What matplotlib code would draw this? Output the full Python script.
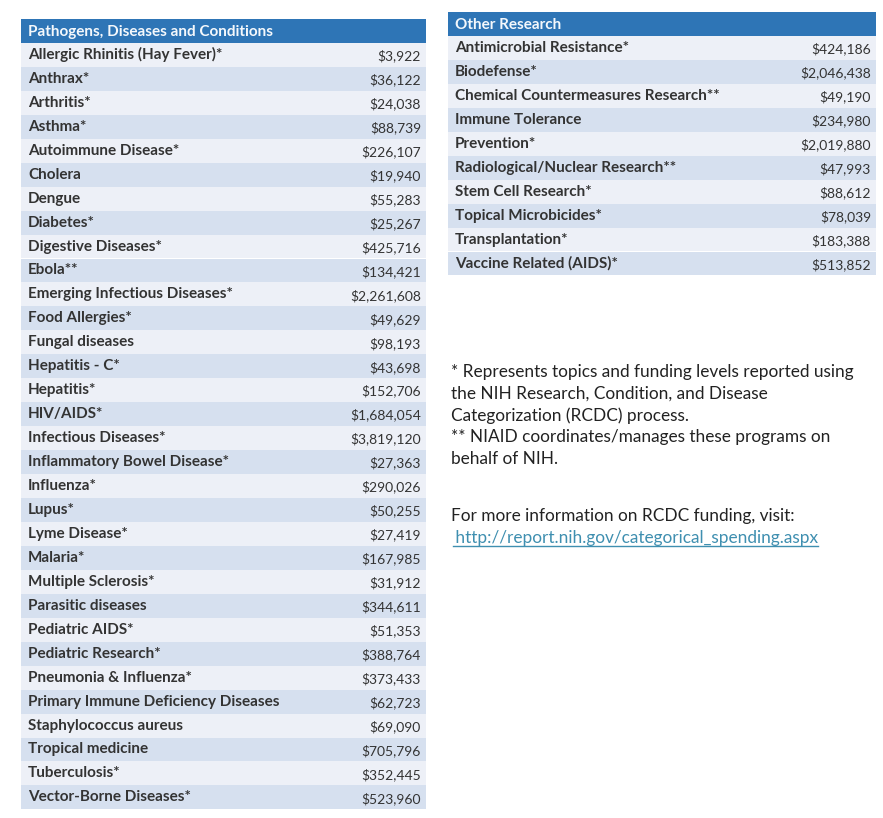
import numpy as np
import matplotlib.pyplot as plt

plt.rcParams['font.family'] = ['Lato', 'DejaVu Sans']

# Left table: pathogens, diseases and conditions (dollars in thousands)
left_title = "Pathogens, Diseases and Conditions"
left_names = [
    "Allergic Rhinitis (Hay Fever)*", "Anthrax*", "Arthritis*", "Asthma*",
    "Autoimmune Disease*", "Cholera", "Dengue", "Diabetes*",
    "Digestive Diseases*", "Ebola**", "Emerging Infectious Diseases*",
    "Food Allergies*", "Fungal diseases", "Hepatitis - C*", "Hepatitis*",
    "HIV/AIDS*", "Infectious Diseases*", "Inflammatory Bowel Disease*",
    "Influenza*", "Lupus*", "Lyme Disease*", "Malaria*",
    "Multiple Sclerosis*", "Parasitic diseases", "Pediatric AIDS*",
    "Pediatric Research*", "Pneumonia & Influenza*",
    "Primary Immune Deficiency Diseases", "Staphylococcus aureus",
    "Tropical medicine", "Tuberculosis*", "Vector-Borne Diseases*",
]
left_values = [
    3922, 36122, 24038, 88739, 226107, 19940, 55283, 25267, 425716, 134421,
    2261608, 49629, 98193, 43698, 152706, 1684054, 3819120, 27363, 290026,
    50255, 27419, 167985, 31912, 344611, 51353, 388764, 373433, 62723,
    69090, 705796, 352445, 523960,
]

# Right table: other research
right_title = "Other Research"
right_names = [
    "Antimicrobial Resistance*", "Biodefense*",
    "Chemical Countermeasures Research**", "Immune Tolerance",
    "Prevention*", "Radiological/Nuclear Research**", "Stem Cell Research*",
    "Topical Microbicides*", "Transplantation*", "Vaccine Related (AIDS)*",
]
right_values = [
    424186, 2046438, 49190, 234980, 2019880, 47993, 88612, 78039, 183388,
    513852,
]

notes = [
    "* Represents topics and funding levels reported using",
    "the NIH Research, Condition, and Disease",
    "Categorization (RCDC) process.",
    "** NIAID coordinates/manages these programs on",
    "behalf of NIH.",
]
info_line = "For more information on RCDC funding, visit:"
link = " http://report.nih.gov/categorical_spending.aspx"

HEADER = "#2e75b6"
LIGHT = "#edf0f7"
DARK = "#d6e0ef"
TEXT = "#333333"

W, H = 883, 818
fig = plt.figure(figsize=(W / 100, H / 100), dpi=100)
ax = fig.add_axes([0, 0, 1, 1])
ax.set_xlim(0, W)
ax.set_ylim(H, 0)
ax.axis("off")


def draw_table(title, names, values, x0, x1, top, row_h):
    # header band
    ax.barh(top + row_h / 2, x1 - x0, height=row_h, left=x0,
            color=HEADER, linewidth=0)
    ax.text(x0 + 7, top + row_h / 2 + 1, title, color="#f4f8fc",
            fontsize=11, fontweight="bold", va="center", ha="left")
    ys = top + row_h * (np.arange(len(names)) + 1.5)
    colors = [LIGHT if i % 2 == 0 else DARK for i in range(len(names))]
    ax.barh(ys, x1 - x0, height=row_h, left=x0, color=colors, linewidth=0)
    for y, name, val in zip(ys, names, values):
        ax.text(x0 + 7, y, name, color=TEXT, fontsize=11,
                fontweight="bold", va="center", ha="left")
        ax.text(x1 - 5, y + 1, f"${val:,}", color=TEXT, fontsize=10,
                va="center", ha="right")


draw_table(left_title, left_names, left_values, 21, 426, 19, 23.95)
draw_table(right_title, right_names, right_values, 448, 876, 12, 23.95)

for i, line in enumerate(notes):
    ax.text(451, 372 + i * 21.8, line, color="#222222", fontsize=12.4,
            va="center", ha="left")
ax.text(451, 516, info_line, color="#222222", fontsize=12.4,
        va="center", ha="left")
ax.text(451, 538, link, color="#3f8fb0", fontsize=12.4,
        va="center", ha="left")
ax.plot([453, 818], [546, 546], color="#3f8fb0", linewidth=1)

fig.savefig("out.png", dpi=100)
